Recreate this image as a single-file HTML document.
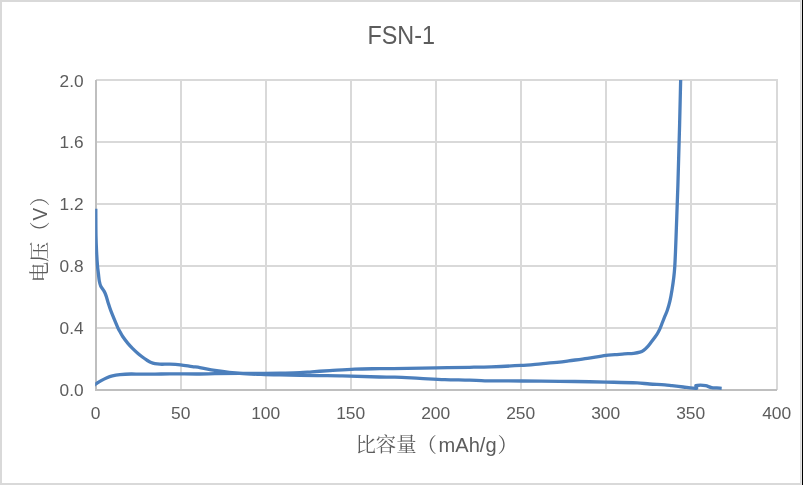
<!DOCTYPE html>
<html><head><meta charset="utf-8"><title>FSN-1</title>
<style>html,body{margin:0;padding:0;background:#fff;}svg{display:block;font-family:"Liberation Sans",sans-serif;}</style></head>
<body>
<svg role="img" aria-label="FSN-1 voltage versus specific capacity" width="803" height="485" viewBox="0 0 803 485">
<rect x="0" y="0" width="803" height="485" fill="#fff"/>
<rect x="0" y="0" width="802" height="2" fill="#d9d9d9"/>
<rect x="0" y="483" width="802" height="2" fill="#d9d9d9"/>
<rect x="0" y="0" width="2" height="485" fill="#d9d9d9"/>
<rect x="800" y="0" width="1" height="485" fill="#d9d9d9"/>
<rect x="801" y="0" width="1" height="485" fill="#e6e6e6"/>
<rect x="802" y="0" width="1" height="485" fill="#000"/>
<g fill="#d9d9d9" shape-rendering="crispEdges">
<rect x="96" y="79" width="682" height="2"/>
<rect x="96" y="141" width="682" height="2"/>
<rect x="96" y="203" width="682" height="2"/>
<rect x="96" y="265" width="682" height="2"/>
<rect x="96" y="327" width="682" height="2"/>
<rect x="180" y="79" width="2" height="311"/>
<rect x="265" y="79" width="2" height="311"/>
<rect x="350" y="79" width="2" height="311"/>
<rect x="435" y="79" width="2" height="311"/>
<rect x="520" y="79" width="2" height="311"/>
<rect x="605" y="79" width="2" height="311"/>
<rect x="690" y="79" width="2" height="311"/>
<rect x="776" y="79" width="2" height="311"/>
</g>
<g fill="#bfbfbf" shape-rendering="crispEdges">
<rect x="95" y="80" width="2" height="311"/>
<rect x="95" y="389" width="682" height="2"/>
</g>
<defs><clipPath id="pc"><rect x="95.2" y="80" width="690" height="312"/></clipPath></defs>
<g clip-path="url(#pc)" stroke="#4c7fbc" stroke-width="3.3" fill="none" stroke-linejoin="round" stroke-linecap="butt">
<path d="M95.80,208.70 C95.87,217.80 95.83,226.90 96.00,236.00 C96.10,241.34 96.33,246.67 96.60,252.00 C96.83,256.67 97.11,261.34 97.50,266.00 C97.71,268.51 98.10,271.00 98.40,273.50 C98.70,276.00 98.83,278.53 99.30,281.00 C99.63,282.77 100.03,284.57 100.80,286.20 C101.68,288.07 103.21,289.58 104.20,291.40 C104.98,292.83 105.56,294.36 106.10,295.90 C106.79,297.87 107.26,299.91 107.90,301.90 C108.86,304.91 109.76,307.95 110.90,310.90 C113.13,316.69 115.56,322.40 118.00,328.10 C118.36,328.94 118.86,329.71 119.30,330.50 C120.42,332.51 121.42,334.59 122.70,336.50 C124.36,338.97 126.20,341.31 128.10,343.60 C129.47,345.25 130.98,346.78 132.50,348.30 C134.08,349.88 135.72,351.42 137.40,352.90 C139.02,354.32 140.68,355.70 142.40,357.00 C144.02,358.23 145.69,359.40 147.40,360.50 C148.59,361.27 149.80,362.04 151.10,362.60 C152.31,363.12 153.60,363.46 154.90,363.70 C156.55,364.00 158.23,364.14 159.90,364.20 C163.23,364.31 166.57,364.09 169.90,364.20 C173.41,364.32 176.91,364.53 180.40,364.90 C184.38,365.33 188.33,366.05 192.30,366.60 C194.80,366.95 197.31,367.19 199.80,367.60 C204.85,368.43 209.84,369.57 214.90,370.30 C223.18,371.50 231.47,372.68 239.80,373.40 C248.08,374.11 256.40,374.31 264.70,374.60 C269.80,374.78 274.90,374.70 280.00,374.80 C286.67,374.93 293.33,375.16 300.00,375.30 C305.80,375.42 311.60,375.52 317.40,375.60 C325.70,375.72 334.00,375.71 342.30,375.90 C354.74,376.18 367.17,376.69 379.60,377.00 C384.70,377.13 389.80,377.02 394.90,377.20 C403.20,377.49 411.50,378.00 419.80,378.40 C428.10,378.80 436.40,379.30 444.70,379.60 C453.00,379.90 461.30,379.95 469.60,380.20 C474.70,380.35 479.80,380.72 484.90,380.80 C497.37,380.99 509.83,380.92 522.30,381.00 C534.73,381.08 547.17,381.18 559.60,381.30 C564.70,381.35 569.80,381.41 574.90,381.50 C585.27,381.68 595.63,381.87 606.00,382.10 C616.40,382.33 626.81,382.45 637.20,382.90 C641.35,383.08 645.46,383.70 649.60,384.00 C654.70,384.37 659.81,384.51 664.90,384.90 C667.27,385.08 669.63,385.43 672.00,385.70 C675.73,386.13 679.47,386.55 683.20,387.00 C686.43,387.39 689.66,387.89 692.90,388.20 C694.16,388.32 695.43,388.27 696.70,388.30 L695.90,385.70 C697.40,385.53 698.89,385.20 700.40,385.20 C702.14,385.20 703.90,385.34 705.60,385.70 C707.65,386.14 709.54,387.20 711.60,387.60 C713.30,387.93 715.07,387.78 716.80,387.90 C718.43,388.01 720.07,388.17 721.70,388.30"/>
<path d="M94.00,385.30 C94.67,384.83 95.32,384.34 96.00,383.90 C97.72,382.78 99.42,381.63 101.20,380.60 C102.89,379.62 104.60,378.67 106.40,377.90 C108.35,377.07 110.34,376.30 112.40,375.80 C114.86,375.20 117.38,374.84 119.90,374.60 C123.62,374.24 127.36,374.07 131.10,374.00 C134.07,373.94 137.03,374.19 140.00,374.20 C145.00,374.22 150.00,374.15 155.00,374.10 C160.00,374.05 165.00,373.91 170.00,373.90 C180.00,373.88 190.00,374.04 200.00,374.00 C204.97,373.98 209.93,373.77 214.90,373.70 C223.20,373.57 231.50,373.47 239.80,373.40 C248.10,373.33 256.40,373.36 264.70,373.30 C269.80,373.26 274.90,373.19 280.00,373.10 C286.67,372.99 293.34,372.97 300.00,372.70 C304.01,372.54 308.00,372.08 312.00,371.80 C317.93,371.38 323.87,370.98 329.80,370.60 C338.10,370.08 346.39,369.42 354.70,369.10 C363.00,368.78 371.30,368.81 379.60,368.70 C388.87,368.58 398.13,368.53 407.40,368.40 C416.93,368.26 426.47,368.07 436.00,367.90 C447.20,367.70 458.40,367.52 469.60,367.30 C476.77,367.16 483.94,367.06 491.10,366.80 C501.07,366.43 511.04,366.00 521.00,365.40 C527.68,365.00 534.33,364.35 541.00,363.80 C547.20,363.29 553.41,362.85 559.60,362.20 C562.65,361.88 565.67,361.33 568.70,360.90 C574.93,360.03 581.18,359.23 587.40,358.30 C593.61,357.37 599.77,356.11 606.00,355.30 C608.98,354.91 612.00,354.93 615.00,354.70 C618.10,354.46 621.20,354.13 624.30,353.90 C627.43,353.67 630.58,353.64 633.70,353.30 C635.79,353.07 637.89,352.79 639.90,352.20 C641.22,351.81 642.48,351.19 643.60,350.40 C645.01,349.41 646.23,348.16 647.40,346.90 C648.74,345.46 649.89,343.85 651.10,342.30 C652.39,340.65 653.67,339.00 654.90,337.30 C655.84,336.00 656.80,334.69 657.60,333.30 C658.57,331.62 659.41,329.87 660.20,328.10 C661.01,326.27 661.66,324.37 662.40,322.50 C663.23,320.40 664.06,318.30 664.90,316.20 C665.73,314.13 666.70,312.11 667.40,310.00 C668.36,307.11 669.22,304.17 669.90,301.20 C670.75,297.50 671.39,293.75 672.00,290.00 C672.69,285.78 673.30,281.55 673.80,277.30 C674.24,273.58 674.56,269.84 674.80,266.10 C675.16,260.31 675.36,254.50 675.60,248.70 C675.86,242.47 676.07,236.23 676.30,230.00 C676.84,215.00 677.43,200.00 677.90,185.00 C678.53,165.00 679.08,145.00 679.60,125.00 C680.01,109.33 680.33,93.67 680.70,78.00"/>
</g>
<g fill="#5c5c5c" opacity="0.999">
<text x="401.2" y="43.8" font-size="25.6" text-anchor="middle" textLength="67.5" lengthAdjust="spacingAndGlyphs">FSN-1</text>
<text x="83.6" y="87.1" font-size="17" text-anchor="end" textLength="24" lengthAdjust="spacingAndGlyphs">2.0</text>
<text x="83.6" y="148.1" font-size="17" text-anchor="end" textLength="24" lengthAdjust="spacingAndGlyphs">1.6</text>
<text x="83.6" y="210.1" font-size="17" text-anchor="end" textLength="24" lengthAdjust="spacingAndGlyphs">1.2</text>
<text x="83.6" y="272.1" font-size="17" text-anchor="end" textLength="24" lengthAdjust="spacingAndGlyphs">0.8</text>
<text x="83.6" y="334.1" font-size="17" text-anchor="end" textLength="24" lengthAdjust="spacingAndGlyphs">0.4</text>
<text x="83.6" y="396.1" font-size="17" text-anchor="end" textLength="24" lengthAdjust="spacingAndGlyphs">0.0</text>
<text x="95.7" y="419" font-size="17" text-anchor="middle" textLength="9.7" lengthAdjust="spacingAndGlyphs">0</text>
<text x="180.7" y="419" font-size="17" text-anchor="middle" textLength="19.4" lengthAdjust="spacingAndGlyphs">50</text>
<text x="265.7" y="419" font-size="17" text-anchor="middle" textLength="29.1" lengthAdjust="spacingAndGlyphs">100</text>
<text x="350.7" y="419" font-size="17" text-anchor="middle" textLength="29.1" lengthAdjust="spacingAndGlyphs">150</text>
<text x="435.7" y="419" font-size="17" text-anchor="middle" textLength="29.1" lengthAdjust="spacingAndGlyphs">200</text>
<text x="520.7" y="419" font-size="17" text-anchor="middle" textLength="29.1" lengthAdjust="spacingAndGlyphs">250</text>
<text x="605.7" y="419" font-size="17" text-anchor="middle" textLength="29.1" lengthAdjust="spacingAndGlyphs">300</text>
<text x="690.7" y="419" font-size="17" text-anchor="middle" textLength="29.1" lengthAdjust="spacingAndGlyphs">350</text>
<text x="776.7" y="419" font-size="17" text-anchor="middle" textLength="29.1" lengthAdjust="spacingAndGlyphs">400</text>
<g><title>比容量（mAh/g）</title>
<text x="355.5" y="452.3" font-size="20.4" textLength="81.5" lengthAdjust="spacingAndGlyphs" style="font-family:'Liberation Sans','Noto Serif CJK SC',sans-serif">比容量（</text>
<text x="438.6" y="451.8" font-size="20" textLength="58" lengthAdjust="spacingAndGlyphs">mAh/g</text>
<text x="497.6" y="452.3" font-size="20.4" style="font-family:'Liberation Sans','Noto Serif CJK SC',sans-serif">）</text>
</g>
<g><title>电压（V）</title>
<text transform="translate(46.7,282.3) rotate(-90)" x="0" y="0" font-size="20.4" textLength="61" lengthAdjust="spacingAndGlyphs" style="font-family:'Liberation Sans','Noto Serif CJK SC',sans-serif">电压（</text>
<text transform="translate(46.6,220.4) rotate(-90)" x="0" y="0" font-size="20" textLength="12.6" lengthAdjust="spacingAndGlyphs">V</text>
<text transform="translate(46.7,206.3) rotate(-90)" x="0" y="0" font-size="20.4" style="font-family:'Liberation Sans','Noto Serif CJK SC',sans-serif">）</text>
</g>
</g>
</svg>
</body></html>
